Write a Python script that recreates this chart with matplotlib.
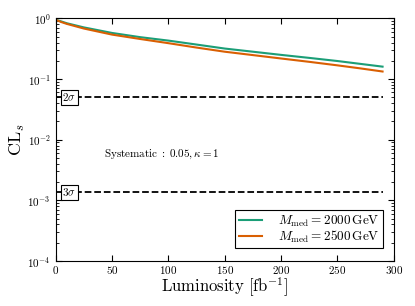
import numpy as np
import matplotlib
matplotlib.use("Agg")
import matplotlib.pyplot as plt
from matplotlib.ticker import LogLocator, NullFormatter

plt.rcParams['font.family'] = 'serif'
plt.rcParams['font.serif'] = ['cmr10']
plt.rcParams['mathtext.fontset'] = 'cm'
plt.rcParams['axes.unicode_minus'] = False
plt.rcParams['axes.formatter.use_mathtext'] = True

lumi = [0, 5, 10, 25, 50, 75, 100, 125, 150, 175, 200, 225, 250, 270, 290]
cls_2000 = [0.95, 0.89, 0.83, 0.71, 0.575, 0.49, 0.43, 0.37, 0.318, 0.282, 0.25, 0.223, 0.198, 0.178, 0.160]
cls_2500 = [0.95, 0.87, 0.81, 0.68, 0.54, 0.457, 0.39, 0.33, 0.282, 0.248, 0.218, 0.192, 0.168, 0.150, 0.133]
labels = [r'$M_{\rm med} = 2000\,{\rm GeV}$', r'$M_{\rm med} = 2500\,{\rm GeV}$']
colors = ['#1b9e77', '#d95f02']
sig2 = 0.05
sig3 = 0.00135

fig = plt.figure(figsize=(4.15, 3.06), dpi=100)
ax = fig.add_axes([0.134, 0.147, 0.815, 0.793])

ax.plot(lumi, cls_2000, color=colors[0], lw=1.5, label=labels[0])
ax.plot(lumi, cls_2500, color=colors[1], lw=1.5, label=labels[1])
ax.plot([0, 290], [sig2, sig2], 'k--', lw=1.3)
ax.plot([0, 290], [sig3, sig3], 'k--', lw=1.3)

bbox = dict(boxstyle='square,pad=0.15', fc='white', ec='black', lw=0.8)
ax.text(12, sig2, r'$2\sigma$', ha='center', va='center', fontsize=8, bbox=bbox)
ax.text(12, sig3, r'$3\sigma$', ha='center', va='center', fontsize=8, bbox=bbox)
ax.text(94, 0.0058, r'${\rm Systematic}\;:\;0.05, \kappa = 1$', ha='center', va='center', fontsize=8)

ax.set_yscale('log')
ax.set_xlim(0, 300)
ax.set_ylim(1e-4, 1)
ax.set_xticks([0, 50, 100, 150, 200, 250, 300])
ax.yaxis.set_minor_locator(LogLocator(base=10, subs=np.arange(2, 10)))
ax.yaxis.set_minor_formatter(NullFormatter())
ax.tick_params(which='both', direction='in', top=True, right=True, labelsize=8)
ax.tick_params(axis='x', pad=2)
ax.tick_params(which='major', length=4)
ax.tick_params(which='minor', length=2)

ax.set_xlabel(r'${\rm Luminosity}\ [{\rm fb}^{-1}]$', fontsize=12, labelpad=0)
ax.set_ylabel(r'${\rm CL}_s$', fontsize=13, labelpad=0)

leg = ax.legend(loc='lower right', bbox_to_anchor=(0.968, 0.053), fontsize=9.5,
                fancybox=False, edgecolor='black', framealpha=1, handlelength=1.8,
                handletextpad=1.2, borderpad=0.25, labelspacing=0.0, borderaxespad=0)
leg.get_frame().set_linewidth(0.8)

fig.savefig('out.png', dpi=100)
